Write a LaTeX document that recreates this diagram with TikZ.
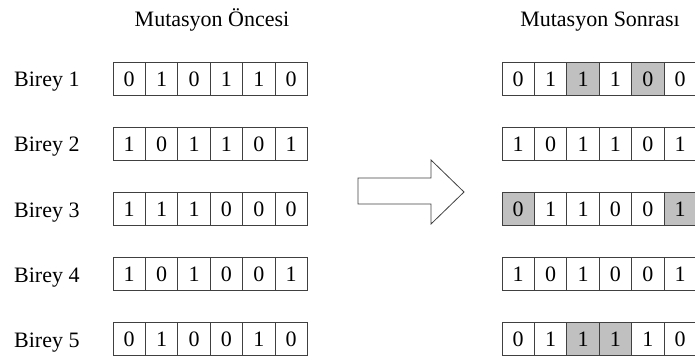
\documentclass[tikz,border=0pt]{standalone}
\usepackage{fontspec}
\setmainfont{Liberation Serif}
\begin{document}
\begin{tikzpicture}[x=1pt, y=1pt, line join=miter]
  \definecolor{cellgray}{RGB}{192,192,192}
  \definecolor{edgegray}{RGB}{64,64,64}
  \tikzset{
    bit/.style={draw=edgegray, line width=1pt, minimum width=32.4pt, minimum height=33pt,
      inner sep=0pt, outer sep=0pt, font=\fontsize{22}{24}\selectfont},
    flip/.style={bit, fill=cellgray},
    lbl/.style={inner sep=0pt, font=\fontsize{22}{24}\selectfont}}
  \useasboundingbox (0,0) rectangle (695,359);
  \clip (0,0) rectangle (695,359);
  \node[lbl, anchor=base] (oncesi) at (212,332) {Mutasyon Öncesi};
  \node[lbl, anchor=base] (sonrasi) at (600,332) {Mutasyon Sonrası};
  % chromosomes before mutation
  \foreach \bits [count=\r] in {{0,1,0,1,1,0},{1,0,1,1,0,1},{1,1,1,0,0,0},{1,0,1,0,0,1},{0,1,0,0,1,0}} {
    \node[lbl, anchor=base west] (birey\r) at (14,{272-65*(\r-1)}) {Birey \r};
    \foreach \b [count=\c] in \bits
      \node[bit] (pre-\r-\c) at ({113+32.4*(\c-0.5)},{280-65*(\r-1)}) {\b};
  }
  % chromosomes after mutation, changed genes shaded
  \foreach \bits [count=\r] in {{0/bit,1/bit,1/flip,1/bit,0/flip,0/bit},
      {1/bit,0/bit,1/bit,1/bit,0/bit,1/bit},{0/flip,1/bit,1/bit,0/bit,0/bit,1/flip},
      {1/bit,0/bit,1/bit,0/bit,0/bit,1/bit},{0/bit,1/bit,1/flip,1/flip,1/bit,0/bit}} {
    \foreach \b/\s [count=\c] in \bits
      \node[\s] (post-\r-\c) at ({502+32.4*(\c-0.5)},{280-65*(\r-1)}) {\b};
  }
  % block arrow between the two columns
  \draw[edgegray, line width=0.8pt] (358,181) -- (431,181) -- (431,199) -- (464,167)
    -- (431,135) -- (431,155) -- (358,155) -- cycle;
\end{tikzpicture}
\end{document}
